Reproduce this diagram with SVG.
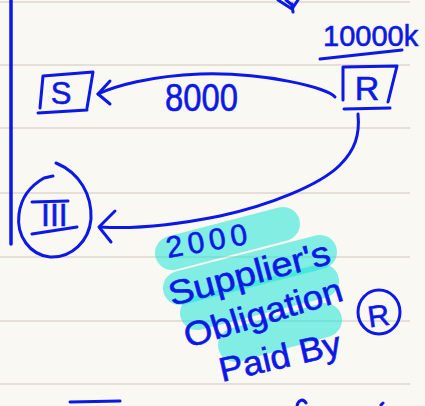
<svg xmlns="http://www.w3.org/2000/svg" width="425" height="406" viewBox="0 0 425 406">
  <style>
    .rule { stroke: #dcd8cf; stroke-width: 1.5; }
    .ink { fill: none; stroke: #0b18e6; stroke-width: 3; stroke-linecap: round; stroke-linejoin: round; }
    .txt { fill: #0b18e6; stroke: #0b18e6; stroke-width: 0.6; font-family: "Liberation Sans", Arial, sans-serif; }
    .hl { fill: none; stroke: #1de3d6; stroke-opacity: 0.55; stroke-width: 34; stroke-linecap: round; }
  </style>

  <!-- ruled paper -->
  <rect width="425" height="406" fill="#faf8f3"/>
  <g id="paper-rules">
    <line class="rule" x1="0" y1="2" x2="410" y2="2"/>
    <line class="rule" x1="0" y1="65" x2="410" y2="65"/>
    <line class="rule" x1="0" y1="128" x2="410" y2="128"/>
    <line class="rule" x1="0" y1="193" x2="410" y2="193"/>
    <line class="rule" x1="0" y1="257" x2="410" y2="257"/>
    <line class="rule" x1="0" y1="321" x2="410" y2="321"/>
    <line class="rule" x1="0" y1="384" x2="410" y2="384"/>
  </g>

  <!-- margin stroke and stray marks -->
  <g id="marks">
    <path class="ink" d="M11 0 L11 244" style="stroke-width:3.5"/>
    <path class="ink" d="M278 0 L292 9 L298 0 M286 0 L292 5 M292 4 L293 12"/>
    <path class="ink" d="M70 402 L120 401"/>
    <path class="ink" d="M297 406 C298 400 303 398 306 403"/>
    <path class="ink" d="M381 405 L383 403"/>
  </g>

  <!-- highlighter strokes behind the note -->
  <g id="highlight">
    <path class="hl" d="M172 253 L283 224"/>
    <path class="hl" d="M180 288 L320 252"/>
    <path class="hl" d="M197 313 L322 281"/>
    <path class="hl" d="M235 345 L325 320"/>
  </g>

  <g id="connectors">
    <!-- R to S -->
    <path class="ink" d="M335 97 C328 88 265 72 200 74 C150 76 115 86 98 94"/>
    <path class="ink" d="M110 81 L98 94 L110 104"/>
    <!-- R to III -->
    <path class="ink" d="M358 114 C360 135 355 150 340 165 C320 185 270 205 220 216 C170 226 130 229 100 227"/>
    <path class="ink" d="M115 211 L99 227 L111 242"/>
  </g>

  <g id="node-S">
    <path class="ink" d="M43 76 L40 108 M43 76 L93 72 L87 108 M38 113 L87 110"/>
    <text class="txt" x="61" y="104" font-size="31" text-anchor="middle">S</text>
  </g>

  <g id="node-R">
    <path class="ink" d="M343 67 L343 100 M343 67 L397 66 L388 102 M344 109 L390 108"/>
    <text class="txt" x="367" y="100" font-size="34" text-anchor="middle">R</text>
    <text class="txt" x="323" y="46" font-size="29">10000k</text>
    <path class="ink" d="M320 59 L402 50"/>
  </g>

  <g id="node-III">
    <path class="ink" d="M53 176 L44 178 C30 186 21 198 19 214 C16 236 30 255 50 257 C72 258 89 241 91 219 C92 195 80 173 56 163"/>
    <path class="ink" d="M32 202 L68 201 M32 234 L77 227"/>
    <text class="txt" x="41" y="226" font-size="32">III</text>
  </g>

  <g id="label-8000">
    <text class="txt" x="165" y="111" font-size="38" textLength="73" lengthAdjust="spacingAndGlyphs">8000</text>
  </g>

  <g id="note">
    <text class="txt" transform="translate(168 258) rotate(-10)" font-size="30" textLength="82" lengthAdjust="spacing">2000</text>
    <text class="txt" transform="translate(172 306) rotate(-15)" font-size="34" textLength="166" lengthAdjust="spacingAndGlyphs">Supplier's</text>
    <text class="txt" transform="translate(188 348) rotate(-17)" font-size="34" textLength="164" lengthAdjust="spacingAndGlyphs">Obligation</text>
    <text class="txt" transform="translate(222 382) rotate(-13)" font-size="34" textLength="124" lengthAdjust="spacingAndGlyphs">Paid By</text>
    <ellipse class="ink" cx="379" cy="312" rx="21" ry="22"/>
    <text class="txt" transform="translate(380 326) rotate(-8)" font-size="30" text-anchor="middle">R</text>
  </g>
</svg>
